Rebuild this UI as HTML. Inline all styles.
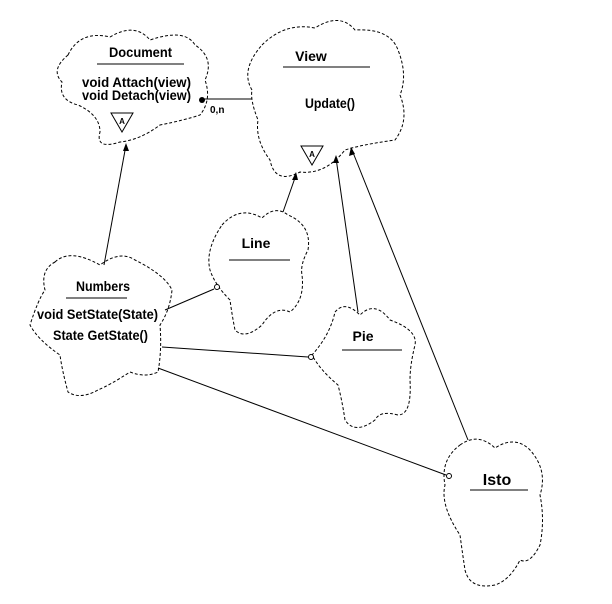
<!DOCTYPE html>
<html><head><style>
html,body{margin:0;padding:0;background:#fff;width:612px;height:604px;overflow:hidden}
text{font-family:"Liberation Sans",sans-serif;font-weight:bold;font-size:14px;fill:#000}
.c{fill:none;stroke:#000;stroke-width:1;stroke-dasharray:3,2}
.l{stroke:#000;stroke-width:1;fill:none}
</style></head><body>
<svg width="612" height="604" viewBox="0 0 612 604">
<path class="c" d="M68,55 Q80,30 110,37 Q135,22 150,40 Q185,28 195,45 Q215,58 205,80 Q212,100 200,115 Q185,120 160,125 Q140,140 120,142 Q95,150 100,132 Q100,115 78,105 Q58,100 62,82 Q50,70 68,55 Z"/>
<path class="c" d="M262,45 Q285,22 315,28 Q340,12 355,30 Q390,28 398,50 Q408,75 400,95 Q410,120 395,140 Q360,145 345,150 Q325,175 300,172 Q275,185 270,160 Q255,140 258,120 Q250,100 252,90 Q240,70 262,45 Z"/>
<path class="c" d="M222,225 Q240,205 262,218 Q275,205 288,215 Q312,225 308,250 Q300,265 302,275 Q305,300 290,312 Q275,305 262,325 Q245,340 235,330 Q232,315 230,300 Q215,285 210,270 Q205,250 222,225 Z"/>
<path class="c" d="M55,262 Q70,248 100,265 Q120,250 135,260 Q165,275 172,290 Q170,310 160,325 Q162,350 158,372 Q145,378 130,372 Q110,385 98,390 Q80,400 68,392 Q62,370 60,355 Q38,340 30,325 Q38,300 45,290 Q40,270 55,262 Z"/>
<path class="c" d="M335,312 Q345,300 360,315 Q375,300 390,320 Q418,330 415,345 Q410,365 410,380 Q412,415 398,415 Q380,410 375,420 Q355,435 345,420 Q342,400 338,385 Q320,370 312,355 Q330,335 335,312 Z"/>
<path class="c" d="M460,445 Q478,432 495,448 Q515,435 530,450 Q548,470 540,495 Q545,520 540,545 Q530,565 520,560 Q510,580 495,585 Q470,590 465,570 Q462,550 460,535 Q440,505 445,485 Q440,460 460,445 Z"/>
<line class="l" x1="104" y1="265" x2="126" y2="145"/>
<polygon points="126,143 123,151 129,151"/>
<line class="l" x1="283" y1="212" x2="296" y2="175"/>
<polygon points="296,172 292,180 298,180"/>
<line class="l" x1="358" y1="312" x2="336" y2="158"/>
<polygon points="336,155 333,163 339,163"/>
<line class="l" x1="468" y1="440" x2="352" y2="150"/>
<polygon points="351,147 349,156 355,154"/>
<line class="l" x1="203" y1="99" x2="252" y2="99"/>
<circle cx="202" cy="100" r="3" fill="#000"/>
<text x="210" y="113" style="font-size:10px">0,n</text>
<line class="l" x1="165" y1="310" x2="214" y2="289"/>
<circle cx="217" cy="287" r="2.5" fill="#fff" stroke="#000"/>
<line class="l" x1="162" y1="347" x2="308" y2="357"/>
<circle cx="311" cy="357" r="2.5" fill="#fff" stroke="#000"/>
<line class="l" x1="158" y1="368" x2="446" y2="475"/>
<circle cx="449" cy="476" r="2.5" fill="#fff" stroke="#000"/>
<text x="109" y="57" textLength="63" lengthAdjust="spacingAndGlyphs">Document</text>
<line class="l" x1="97" y1="64" x2="184" y2="64"/>
<text x="82" y="87" textLength="109" lengthAdjust="spacingAndGlyphs">void Attach(view)</text>
<text x="82" y="100" textLength="109" lengthAdjust="spacingAndGlyphs">void Detach(view)</text>
<polygon points="111,113 133,113 122,132" fill="none" stroke="#000"/>
<text x="122" y="124" text-anchor="middle" style="font-size:8px">A</text>
<text x="311" y="61" text-anchor="middle">View</text>
<line class="l" x1="283" y1="67" x2="370" y2="67"/>
<text x="305" y="108" textLength="50" lengthAdjust="spacingAndGlyphs">Update()</text>
<polygon points="301,146 323,146 312,165" fill="none" stroke="#000"/>
<text x="312" y="157" text-anchor="middle" style="font-size:8px">A</text>
<text x="256" y="248" text-anchor="middle">Line</text>
<line class="l" x1="229" y1="260" x2="290" y2="260"/>
<text x="76" y="291" textLength="54" lengthAdjust="spacingAndGlyphs">Numbers</text>
<line class="l" x1="66" y1="298" x2="127" y2="298"/>
<text x="37" y="319" textLength="121" lengthAdjust="spacingAndGlyphs">void SetState(State)</text>
<text x="53" y="340" textLength="95" lengthAdjust="spacingAndGlyphs">State GetState()</text>
<text x="363" y="341" text-anchor="middle">Pie</text>
<line class="l" x1="342" y1="350" x2="402" y2="350"/>
<text x="497" y="485" text-anchor="middle" style="font-size:16px">Isto</text>
<line class="l" x1="470" y1="490" x2="528" y2="490"/>
</svg>
</body></html>
